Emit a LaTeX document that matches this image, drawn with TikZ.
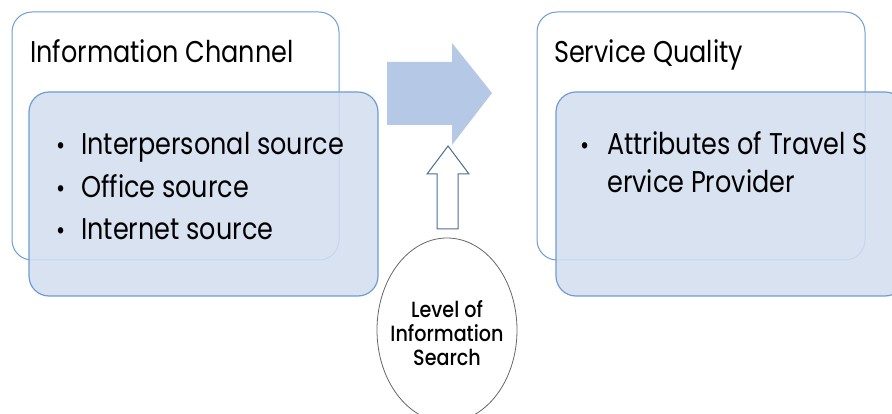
\documentclass[tikz,border=0pt]{standalone}
\usepackage{fontspec}
\setmainfont{Poppins}[FakeStretch=0.85]
\newfontfamily\medfont{Poppins Medium}[FakeStretch=0.87]
\usetikzlibrary{shapes.geometric}
\definecolor{boxline}{HTML}{6E9DD3}
\definecolor{innerfill}{HTML}{D3DEEF}
\definecolor{arrowfill}{HTML}{B5C9E6}
\definecolor{uparrow}{HTML}{4D6D96}
\tikzset{
  outerbox/.style={draw=boxline, line width=1pt, rounded corners=20pt, fill=white},
  innerbox/.style={draw=boxline, line width=1.2pt, rounded corners=20pt, fill=innerfill, fill opacity=0.88},
  title/.style={anchor=base west, inner sep=0pt, font=\fontsize{30}{31}\selectfont},
  item/.style={anchor=base west, inner sep=0pt, font=\fontsize{30}{31}\selectfont},
  dot/.style={anchor=base west, inner sep=0pt, font=\fontsize{26}{27}\selectfont},
}
\begin{document}
\begin{tikzpicture}[x=1pt,y=-1pt]
\useasboundingbox (0,0) rectangle (892,414);
% left group
\draw[outerbox] (12,12) rectangle (339,260);
\node[title] (ictitle) at (30,63) {Information Channel};
\draw[innerbox] (29,92) rectangle (378,296);
\node[dot] (b1) at (56,155) {•};
\node[item] (i1) at (81,155) {Interpersonal source};
\node[dot] (b2) at (56,198) {•};
\node[item] (i2) at (81,198) {Office source};
\node[dot] (b3) at (56,240) {•};
\node[item] (i3) at (81,240) {Internet source};
% right group
\draw[outerbox] (537,12) rectangle (865,260);
\node[title] (sqtitle) at (554,63) {Service Quality};
\draw[innerbox] (556,92) rectangle (905,296);
\node[dot] (b4) at (580,155) {•};
\node[item] (i4) at (607,155) {Attributes of Travel S};
\node[item] (i5) at (607,193) {ervice Provider};
% big arrow
\fill[arrowfill] (387,62) -- (452,62) -- (452,43) -- (492,93) -- (452,145) -- (452,125) -- (387,125) -- cycle;
% ellipse
\node[draw=gray!80!black, line width=0.8pt, ellipse, minimum width=140pt, minimum height=184pt, inner sep=0pt, fill=white] (lvl) at (447,330) {};
\node[align=center, inner sep=0pt, font=\medfont\fontsize{22}{24}\selectfont] (lvltext) at (447,333) {Level of\\Information\\Search};
% up arrow
\coordinate (tip) at (448,146);
\draw[uparrow, line width=1pt, fill=white] (437,229) -- (437,174) -- (427,174) -- (tip) -- (469,174) -- (458,174) -- (458,229) -- cycle;
\end{tikzpicture}
\end{document}
